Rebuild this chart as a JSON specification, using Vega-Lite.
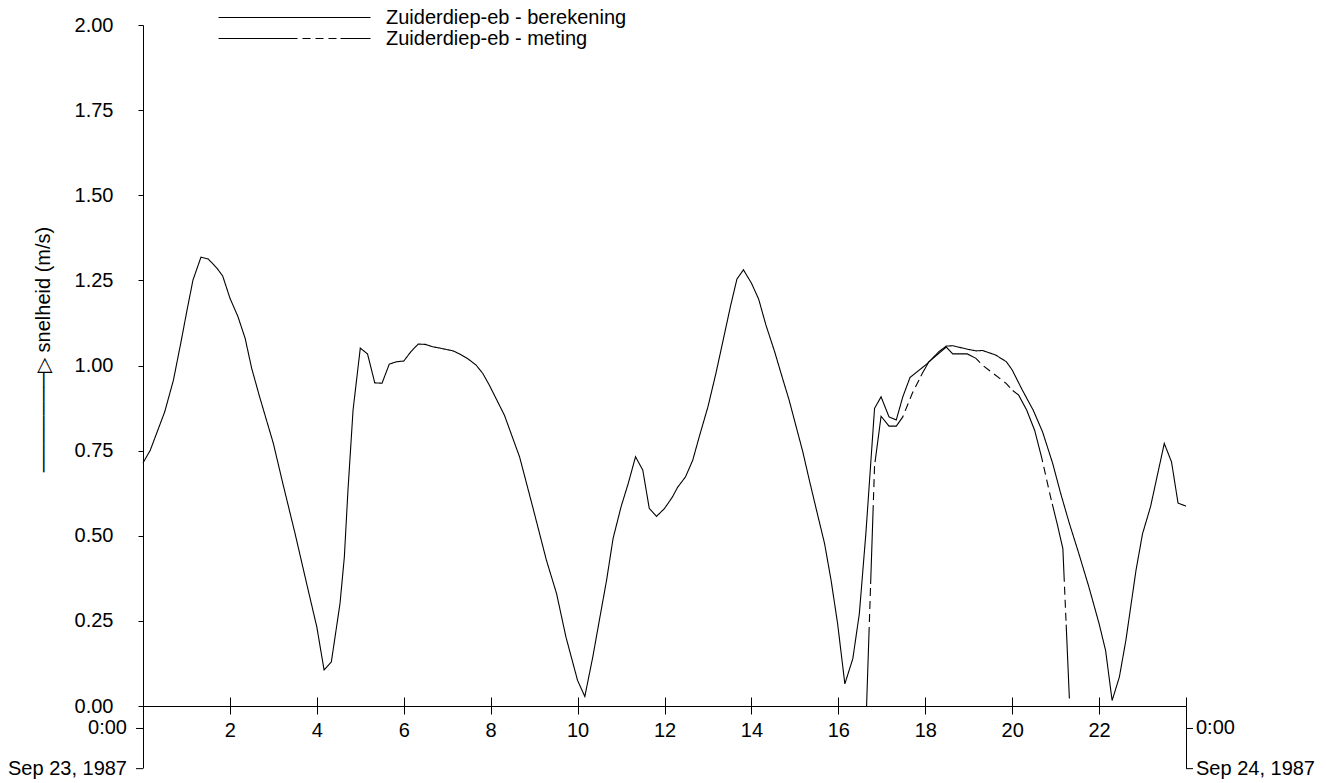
{
  "$schema": "https://vega.github.io/schema/vega-lite/v6.json",
  "width": 1043,
  "height": 681,
  "autosize": {"type": "none"},
  "padding": {"left": 143, "top": 25, "right": 140, "bottom": 77},
  "background": "white",
  "config": {
    "font": "Liberation Sans",
    "view": {"stroke": null},
    "text": {"font": "Liberation Sans", "fontSize": 20, "color": "#000"},
    "axis": {
      "labelFont": "Liberation Sans",
      "labelFontSize": 20,
      "labelColor": "#000",
      "tickColor": "#000",
      "tickWidth": 1,
      "domainColor": "#000",
      "domainWidth": 1,
      "grid": false,
      "titleFont": "Liberation Sans",
      "titleFontSize": 20,
      "titleFontWeight": "normal",
      "titleColor": "#000",
      "labelOverlap": false,
      "labelFlush": false
    }
  },
  "datasets": {
    "berekening": [
      {"series": "Zuiderdiep-eb - berekening", "t": "1987-09-23T00:00", "v": 0.714},
      {"series": "Zuiderdiep-eb - berekening", "t": "1987-09-23T00:10", "v": 0.751},
      {"series": "Zuiderdiep-eb - berekening", "t": "1987-09-23T00:30", "v": 0.864},
      {"series": "Zuiderdiep-eb - berekening", "t": "1987-09-23T00:42", "v": 0.957},
      {"series": "Zuiderdiep-eb - berekening", "t": "1987-09-23T00:53", "v": 1.075},
      {"series": "Zuiderdiep-eb - berekening", "t": "1987-09-23T01:00", "v": 1.154},
      {"series": "Zuiderdiep-eb - berekening", "t": "1987-09-23T01:09", "v": 1.251},
      {"series": "Zuiderdiep-eb - berekening", "t": "1987-09-23T01:20", "v": 1.318},
      {"series": "Zuiderdiep-eb - berekening", "t": "1987-09-23T01:30", "v": 1.313},
      {"series": "Zuiderdiep-eb - berekening", "t": "1987-09-23T01:42", "v": 1.286},
      {"series": "Zuiderdiep-eb - berekening", "t": "1987-09-23T01:50", "v": 1.263},
      {"series": "Zuiderdiep-eb - berekening", "t": "1987-09-23T02:00", "v": 1.198},
      {"series": "Zuiderdiep-eb - berekening", "t": "1987-09-23T02:11", "v": 1.144},
      {"series": "Zuiderdiep-eb - berekening", "t": "1987-09-23T02:21", "v": 1.080},
      {"series": "Zuiderdiep-eb - berekening", "t": "1987-09-23T02:30", "v": 0.992},
      {"series": "Zuiderdiep-eb - berekening", "t": "1987-09-23T02:41", "v": 0.908},
      {"series": "Zuiderdiep-eb - berekening", "t": "1987-09-23T03:00", "v": 0.771},
      {"series": "Zuiderdiep-eb - berekening", "t": "1987-09-23T03:13", "v": 0.654},
      {"series": "Zuiderdiep-eb - berekening", "t": "1987-09-23T03:30", "v": 0.506},
      {"series": "Zuiderdiep-eb - berekening", "t": "1987-09-23T03:46", "v": 0.359},
      {"series": "Zuiderdiep-eb - berekening", "t": "1987-09-23T04:00", "v": 0.232},
      {"series": "Zuiderdiep-eb - berekening", "t": "1987-09-23T04:10", "v": 0.106},
      {"series": "Zuiderdiep-eb - berekening", "t": "1987-09-23T04:20", "v": 0.129},
      {"series": "Zuiderdiep-eb - berekening", "t": "1987-09-23T04:32", "v": 0.301},
      {"series": "Zuiderdiep-eb - berekening", "t": "1987-09-23T04:38", "v": 0.438},
      {"series": "Zuiderdiep-eb - berekening", "t": "1987-09-23T04:43", "v": 0.634},
      {"series": "Zuiderdiep-eb - berekening", "t": "1987-09-23T04:50", "v": 0.869},
      {"series": "Zuiderdiep-eb - berekening", "t": "1987-09-23T05:00", "v": 1.051},
      {"series": "Zuiderdiep-eb - berekening", "t": "1987-09-23T05:10", "v": 1.034},
      {"series": "Zuiderdiep-eb - berekening", "t": "1987-09-23T05:20", "v": 0.949},
      {"series": "Zuiderdiep-eb - berekening", "t": "1987-09-23T05:30", "v": 0.948},
      {"series": "Zuiderdiep-eb - berekening", "t": "1987-09-23T05:40", "v": 1.004},
      {"series": "Zuiderdiep-eb - berekening", "t": "1987-09-23T05:50", "v": 1.011},
      {"series": "Zuiderdiep-eb - berekening", "t": "1987-09-23T06:00", "v": 1.013},
      {"series": "Zuiderdiep-eb - berekening", "t": "1987-09-23T06:10", "v": 1.041},
      {"series": "Zuiderdiep-eb - berekening", "t": "1987-09-23T06:20", "v": 1.063},
      {"series": "Zuiderdiep-eb - berekening", "t": "1987-09-23T06:30", "v": 1.062},
      {"series": "Zuiderdiep-eb - berekening", "t": "1987-09-23T06:40", "v": 1.055},
      {"series": "Zuiderdiep-eb - berekening", "t": "1987-09-23T06:50", "v": 1.051},
      {"series": "Zuiderdiep-eb - berekening", "t": "1987-09-23T07:08", "v": 1.043},
      {"series": "Zuiderdiep-eb - berekening", "t": "1987-09-23T07:17", "v": 1.034},
      {"series": "Zuiderdiep-eb - berekening", "t": "1987-09-23T07:29", "v": 1.019},
      {"series": "Zuiderdiep-eb - berekening", "t": "1987-09-23T07:40", "v": 1.001},
      {"series": "Zuiderdiep-eb - berekening", "t": "1987-09-23T07:49", "v": 0.977},
      {"series": "Zuiderdiep-eb - berekening", "t": "1987-09-23T07:58", "v": 0.943},
      {"series": "Zuiderdiep-eb - berekening", "t": "1987-09-23T08:19", "v": 0.854},
      {"series": "Zuiderdiep-eb - berekening", "t": "1987-09-23T08:40", "v": 0.731},
      {"series": "Zuiderdiep-eb - berekening", "t": "1987-09-23T08:58", "v": 0.585},
      {"series": "Zuiderdiep-eb - berekening", "t": "1987-09-23T09:17", "v": 0.428},
      {"series": "Zuiderdiep-eb - berekening", "t": "1987-09-23T09:31", "v": 0.330},
      {"series": "Zuiderdiep-eb - berekening", "t": "1987-09-23T09:44", "v": 0.202},
      {"series": "Zuiderdiep-eb - berekening", "t": "1987-09-23T10:00", "v": 0.075},
      {"series": "Zuiderdiep-eb - berekening", "t": "1987-09-23T10:10", "v": 0.028},
      {"series": "Zuiderdiep-eb - berekening", "t": "1987-09-23T10:21", "v": 0.144},
      {"series": "Zuiderdiep-eb - berekening", "t": "1987-09-23T10:30", "v": 0.251},
      {"series": "Zuiderdiep-eb - berekening", "t": "1987-09-23T10:40", "v": 0.369},
      {"series": "Zuiderdiep-eb - berekening", "t": "1987-09-23T10:49", "v": 0.492},
      {"series": "Zuiderdiep-eb - berekening", "t": "1987-09-23T11:00", "v": 0.585},
      {"series": "Zuiderdiep-eb - berekening", "t": "1987-09-23T11:10", "v": 0.654},
      {"series": "Zuiderdiep-eb - berekening", "t": "1987-09-23T11:20", "v": 0.732},
      {"series": "Zuiderdiep-eb - berekening", "t": "1987-09-23T11:30", "v": 0.693},
      {"series": "Zuiderdiep-eb - berekening", "t": "1987-09-23T11:39", "v": 0.580},
      {"series": "Zuiderdiep-eb - berekening", "t": "1987-09-23T11:49", "v": 0.557},
      {"series": "Zuiderdiep-eb - berekening", "t": "1987-09-23T12:00", "v": 0.580},
      {"series": "Zuiderdiep-eb - berekening", "t": "1987-09-23T12:11", "v": 0.614},
      {"series": "Zuiderdiep-eb - berekening", "t": "1987-09-23T12:18", "v": 0.642},
      {"series": "Zuiderdiep-eb - berekening", "t": "1987-09-23T12:29", "v": 0.673},
      {"series": "Zuiderdiep-eb - berekening", "t": "1987-09-23T12:39", "v": 0.722},
      {"series": "Zuiderdiep-eb - berekening", "t": "1987-09-23T12:48", "v": 0.791},
      {"series": "Zuiderdiep-eb - berekening", "t": "1987-09-23T13:00", "v": 0.879},
      {"series": "Zuiderdiep-eb - berekening", "t": "1987-09-23T13:11", "v": 0.977},
      {"series": "Zuiderdiep-eb - berekening", "t": "1987-09-23T13:20", "v": 1.065},
      {"series": "Zuiderdiep-eb - berekening", "t": "1987-09-23T13:31", "v": 1.173},
      {"series": "Zuiderdiep-eb - berekening", "t": "1987-09-23T13:40", "v": 1.254},
      {"series": "Zuiderdiep-eb - berekening", "t": "1987-09-23T13:49", "v": 1.281},
      {"series": "Zuiderdiep-eb - berekening", "t": "1987-09-23T14:00", "v": 1.242},
      {"series": "Zuiderdiep-eb - berekening", "t": "1987-09-23T14:10", "v": 1.195},
      {"series": "Zuiderdiep-eb - berekening", "t": "1987-09-23T14:20", "v": 1.119},
      {"series": "Zuiderdiep-eb - berekening", "t": "1987-09-23T14:32", "v": 1.041},
      {"series": "Zuiderdiep-eb - berekening", "t": "1987-09-23T14:43", "v": 0.962},
      {"series": "Zuiderdiep-eb - berekening", "t": "1987-09-23T14:52", "v": 0.899},
      {"series": "Zuiderdiep-eb - berekening", "t": "1987-09-23T15:11", "v": 0.746},
      {"series": "Zuiderdiep-eb - berekening", "t": "1987-09-23T15:20", "v": 0.663},
      {"series": "Zuiderdiep-eb - berekening", "t": "1987-09-23T15:31", "v": 0.565},
      {"series": "Zuiderdiep-eb - berekening", "t": "1987-09-23T15:41", "v": 0.477},
      {"series": "Zuiderdiep-eb - berekening", "t": "1987-09-23T15:50", "v": 0.369},
      {"series": "Zuiderdiep-eb - berekening", "t": "1987-09-23T15:59", "v": 0.242},
      {"series": "Zuiderdiep-eb - berekening", "t": "1987-09-23T16:09", "v": 0.065},
      {"series": "Zuiderdiep-eb - berekening", "t": "1987-09-23T16:20", "v": 0.139},
      {"series": "Zuiderdiep-eb - berekening", "t": "1987-09-23T16:29", "v": 0.271},
      {"series": "Zuiderdiep-eb - berekening", "t": "1987-09-23T16:38", "v": 0.506},
      {"series": "Zuiderdiep-eb - berekening", "t": "1987-09-23T16:50", "v": 0.874},
      {"series": "Zuiderdiep-eb - berekening", "t": "1987-09-23T16:59", "v": 0.908},
      {"series": "Zuiderdiep-eb - berekening", "t": "1987-09-23T17:10", "v": 0.849},
      {"series": "Zuiderdiep-eb - berekening", "t": "1987-09-23T17:20", "v": 0.840},
      {"series": "Zuiderdiep-eb - berekening", "t": "1987-09-23T17:29", "v": 0.908},
      {"series": "Zuiderdiep-eb - berekening", "t": "1987-09-23T17:39", "v": 0.965},
      {"series": "Zuiderdiep-eb - berekening", "t": "1987-09-23T17:52", "v": 0.987},
      {"series": "Zuiderdiep-eb - berekening", "t": "1987-09-23T18:03", "v": 1.006},
      {"series": "Zuiderdiep-eb - berekening", "t": "1987-09-23T18:19", "v": 1.041},
      {"series": "Zuiderdiep-eb - berekening", "t": "1987-09-23T18:29", "v": 1.057},
      {"series": "Zuiderdiep-eb - berekening", "t": "1987-09-23T18:38", "v": 1.058},
      {"series": "Zuiderdiep-eb - berekening", "t": "1987-09-23T18:50", "v": 1.052},
      {"series": "Zuiderdiep-eb - berekening", "t": "1987-09-23T19:00", "v": 1.047},
      {"series": "Zuiderdiep-eb - berekening", "t": "1987-09-23T19:10", "v": 1.043},
      {"series": "Zuiderdiep-eb - berekening", "t": "1987-09-23T19:19", "v": 1.044},
      {"series": "Zuiderdiep-eb - berekening", "t": "1987-09-23T19:37", "v": 1.031},
      {"series": "Zuiderdiep-eb - berekening", "t": "1987-09-23T19:52", "v": 1.011},
      {"series": "Zuiderdiep-eb - berekening", "t": "1987-09-23T20:00", "v": 0.987},
      {"series": "Zuiderdiep-eb - berekening", "t": "1987-09-23T20:14", "v": 0.928},
      {"series": "Zuiderdiep-eb - berekening", "t": "1987-09-23T20:29", "v": 0.869},
      {"series": "Zuiderdiep-eb - berekening", "t": "1987-09-23T20:42", "v": 0.805},
      {"series": "Zuiderdiep-eb - berekening", "t": "1987-09-23T20:56", "v": 0.712},
      {"series": "Zuiderdiep-eb - berekening", "t": "1987-09-23T21:07", "v": 0.624},
      {"series": "Zuiderdiep-eb - berekening", "t": "1987-09-23T21:19", "v": 0.536},
      {"series": "Zuiderdiep-eb - berekening", "t": "1987-09-23T21:32", "v": 0.448},
      {"series": "Zuiderdiep-eb - berekening", "t": "1987-09-23T21:46", "v": 0.349},
      {"series": "Zuiderdiep-eb - berekening", "t": "1987-09-23T22:00", "v": 0.242},
      {"series": "Zuiderdiep-eb - berekening", "t": "1987-09-23T22:09", "v": 0.163},
      {"series": "Zuiderdiep-eb - berekening", "t": "1987-09-23T22:18", "v": 0.016},
      {"series": "Zuiderdiep-eb - berekening", "t": "1987-09-23T22:28", "v": 0.085},
      {"series": "Zuiderdiep-eb - berekening", "t": "1987-09-23T22:37", "v": 0.193},
      {"series": "Zuiderdiep-eb - berekening", "t": "1987-09-23T22:51", "v": 0.399},
      {"series": "Zuiderdiep-eb - berekening", "t": "1987-09-23T23:00", "v": 0.506},
      {"series": "Zuiderdiep-eb - berekening", "t": "1987-09-23T23:11", "v": 0.585},
      {"series": "Zuiderdiep-eb - berekening", "t": "1987-09-23T23:30", "v": 0.771},
      {"series": "Zuiderdiep-eb - berekening", "t": "1987-09-23T23:40", "v": 0.717},
      {"series": "Zuiderdiep-eb - berekening", "t": "1987-09-23T23:49", "v": 0.596},
      {"series": "Zuiderdiep-eb - berekening", "t": "1987-09-24T00:00", "v": 0.587}
    ],
    "meting": [
      {"series": "Zuiderdiep-eb - meting", "t": "1987-09-23T16:39", "v": 0.0},
      {"series": "Zuiderdiep-eb - meting", "t": "1987-09-23T16:50", "v": 0.705},
      {"series": "Zuiderdiep-eb - meting", "t": "1987-09-23T16:59", "v": 0.851},
      {"series": "Zuiderdiep-eb - meting", "t": "1987-09-23T17:10", "v": 0.822},
      {"series": "Zuiderdiep-eb - meting", "t": "1987-09-23T17:20", "v": 0.822},
      {"series": "Zuiderdiep-eb - meting", "t": "1987-09-23T17:29", "v": 0.849},
      {"series": "Zuiderdiep-eb - meting", "t": "1987-09-23T17:42", "v": 0.918},
      {"series": "Zuiderdiep-eb - meting", "t": "1987-09-23T17:56", "v": 0.977},
      {"series": "Zuiderdiep-eb - meting", "t": "1987-09-23T18:05", "v": 1.011},
      {"series": "Zuiderdiep-eb - meting", "t": "1987-09-23T18:29", "v": 1.054},
      {"series": "Zuiderdiep-eb - meting", "t": "1987-09-23T18:38", "v": 1.034},
      {"series": "Zuiderdiep-eb - meting", "t": "1987-09-23T18:58", "v": 1.034},
      {"series": "Zuiderdiep-eb - meting", "t": "1987-09-23T19:10", "v": 1.021},
      {"series": "Zuiderdiep-eb - meting", "t": "1987-09-23T19:19", "v": 1.001},
      {"series": "Zuiderdiep-eb - meting", "t": "1987-09-23T19:52", "v": 0.947},
      {"series": "Zuiderdiep-eb - meting", "t": "1987-09-23T20:00", "v": 0.928},
      {"series": "Zuiderdiep-eb - meting", "t": "1987-09-23T20:09", "v": 0.913},
      {"series": "Zuiderdiep-eb - meting", "t": "1987-09-23T20:20", "v": 0.869},
      {"series": "Zuiderdiep-eb - meting", "t": "1987-09-23T20:31", "v": 0.810},
      {"series": "Zuiderdiep-eb - meting", "t": "1987-09-23T20:41", "v": 0.727},
      {"series": "Zuiderdiep-eb - meting", "t": "1987-09-23T20:53", "v": 0.614},
      {"series": "Zuiderdiep-eb - meting", "t": "1987-09-23T21:02", "v": 0.536},
      {"series": "Zuiderdiep-eb - meting", "t": "1987-09-23T21:10", "v": 0.462},
      {"series": "Zuiderdiep-eb - meting", "t": "1987-09-23T21:19", "v": 0.022}
    ],
    "bracket": [
      {"t": "1987-09-23T00:00", "side": "left", "time": "0:00", "date": "Sep 23, 1987"},
      {"t": "1987-09-24T00:00", "side": "right", "time": "0:00", "date": "Sep 24, 1987"}
    ]
  },
  "layer": [
    {
      "data": {"name": "berekening"},
      "mark": {"type": "line", "color": "#000", "strokeWidth": 1.1},
      "encoding": {
        "x": {
          "field": "t", "type": "temporal",
          "scale": {"domain": [{"year": 1987, "month": 9, "date": 23, "hours": 0}, {"year": 1987, "month": 9, "date": 24, "hours": 0}], "nice": false},
          "axis": {
            "orient": "bottom",
            "title": null,
            "values": [
              {"year": 1987, "month": 9, "date": 23, "hours": 0},
              {"year": 1987, "month": 9, "date": 23, "hours": 2},
              {"year": 1987, "month": 9, "date": 23, "hours": 4},
              {"year": 1987, "month": 9, "date": 23, "hours": 6},
              {"year": 1987, "month": 9, "date": 23, "hours": 8},
              {"year": 1987, "month": 9, "date": 23, "hours": 10},
              {"year": 1987, "month": 9, "date": 23, "hours": 12},
              {"year": 1987, "month": 9, "date": 23, "hours": 14},
              {"year": 1987, "month": 9, "date": 23, "hours": 16},
              {"year": 1987, "month": 9, "date": 23, "hours": 18},
              {"year": 1987, "month": 9, "date": 23, "hours": 20},
              {"year": 1987, "month": 9, "date": 23, "hours": 22},
              {"year": 1987, "month": 9, "date": 24, "hours": 0}
            ],
            "labelExpr": "hours(datum.value) == 0 ? '' : '' + hours(datum.value)",
            "tickSize": {"condition": {"test": "hours(datum.value) == 0", "value": 62}, "value": 8},
            "labelPadding": 6,
            "domain": true
          }
        },
        "y": {
          "field": "v", "type": "quantitative",
          "scale": {"domain": [0, 2], "nice": false, "zero": true},
          "axis": {
            "orient": "left",
            "values": [0, 0.25, 0.5, 0.75, 1, 1.25, 1.5, 1.75, 2],
            "format": ".2f",
            "tickSize": 5,
            "labelPadding": 25,
            "title": "───────▷  snelheid (m/s)",
            "titleAngle": -90,
            "titleX": -100,
            "titleY": 324,
            "titleBaseline": "middle",
            "titleAlign": "center",
            "domain": true
          }
        },
        "strokeDash": {
          "field": "series", "type": "nominal",
          "scale": {"domain": ["Zuiderdiep-eb - berekening", "Zuiderdiep-eb - meting"], "range": [[1, 0], [79, 5, 8, 5, 8, 5, 8, 4]]},
          "legend": {
            "title": null, "orient": "none", "legendX": 141, "legendY": -18,
            "symbolType": "M-8,0H8", "symbolSize": 361, "symbolStrokeWidth": 1.1, "symbolStrokeColor": "#000",
            "labelFont": "Liberation Sans", "labelFontSize": 20, "labelColor": "#000", "labelOffset": 81,
            "rowPadding": 0, "padding": 0, "labelLimit": 400
          }
        }
      }
    },
    {
      "data": {"name": "meting"},
      "mark": {"type": "line", "color": "#000", "strokeWidth": 1.1},
      "encoding": {
        "x": {
          "field": "t", "type": "temporal",
          "scale": {"domain": [{"year": 1987, "month": 9, "date": 23, "hours": 0}, {"year": 1987, "month": 9, "date": 24, "hours": 0}], "nice": false},
          "axis": {
            "orient": "top",
            "offset": -681,
            "title": null,
            "values": [
              {"year": 1987, "month": 9, "date": 23, "hours": 2},
              {"year": 1987, "month": 9, "date": 23, "hours": 4},
              {"year": 1987, "month": 9, "date": 23, "hours": 6},
              {"year": 1987, "month": 9, "date": 23, "hours": 8},
              {"year": 1987, "month": 9, "date": 23, "hours": 10},
              {"year": 1987, "month": 9, "date": 23, "hours": 12},
              {"year": 1987, "month": 9, "date": 23, "hours": 14},
              {"year": 1987, "month": 9, "date": 23, "hours": 16},
              {"year": 1987, "month": 9, "date": 23, "hours": 18},
              {"year": 1987, "month": 9, "date": 23, "hours": 20},
              {"year": 1987, "month": 9, "date": 23, "hours": 22},
              {"year": 1987, "month": 9, "date": 24, "hours": 0}
            ],
            "tickSize": 9,
            "labels": false,
            "domain": false
          }
        },
        "y": {
          "field": "v", "type": "quantitative",
          "scale": {"domain": [0, 2], "nice": false, "zero": true},
          "axis": null
        },
        "strokeDash": {
          "field": "series", "type": "nominal",
          "scale": {"domain": ["Zuiderdiep-eb - berekening", "Zuiderdiep-eb - meting"], "range": [[1, 0], [79, 5, 8, 5, 8, 5, 8, 4]]},
          "legend": {
            "title": null, "orient": "none", "legendX": 141, "legendY": -18,
            "symbolType": "M-8,0H8", "symbolSize": 361, "symbolStrokeWidth": 1.1, "symbolStrokeColor": "#000",
            "labelFont": "Liberation Sans", "labelFontSize": 20, "labelColor": "#000", "labelOffset": 81,
            "rowPadding": 0, "padding": 0, "labelLimit": 400
          }
        }
      }
    },
    {
      "data": {"name": "bracket"},
      "transform": [{"filter": "datum.side == 'left'"}],
      "encoding": {
        "x": {"field": "t", "type": "temporal", "axis": null}
      },
      "layer": [
        {
          "mark": {"type": "text", "align": "right", "baseline": "middle", "dx": -16},
          "encoding": {
            "y": {"datum": -0.066, "type": "quantitative", "axis": null},
            "text": {"field": "time"}
          }
        },
        {
          "mark": {"type": "text", "align": "right", "baseline": "middle", "dx": -16},
          "encoding": {
            "y": {"datum": -0.184, "type": "quantitative", "axis": null},
            "text": {"field": "date"}
          }
        },
        {
          "mark": {"type": "rule", "color": "#000", "strokeWidth": 1, "x2Offset": -7},
          "encoding": {
            "x2": {"field": "t"},
            "y": {"datum": -0.066, "type": "quantitative", "axis": null}
          }
        },
        {
          "mark": {"type": "rule", "color": "#000", "strokeWidth": 1, "x2Offset": -7},
          "encoding": {
            "x2": {"field": "t"},
            "y": {"datum": -0.184, "type": "quantitative", "axis": null}
          }
        }
      ]
    },
    {
      "data": {"name": "bracket"},
      "transform": [{"filter": "datum.side == 'right'"}],
      "encoding": {
        "x": {"field": "t", "type": "temporal", "axis": null}
      },
      "layer": [
        {
          "mark": {"type": "text", "align": "left", "baseline": "middle", "dx": 10},
          "encoding": {
            "y": {"datum": -0.066, "type": "quantitative", "axis": null},
            "text": {"field": "time"}
          }
        },
        {
          "mark": {"type": "text", "align": "left", "baseline": "middle", "dx": 10},
          "encoding": {
            "y": {"datum": -0.184, "type": "quantitative", "axis": null},
            "text": {"field": "date"}
          }
        },
        {
          "mark": {"type": "rule", "color": "#000", "strokeWidth": 1, "x2Offset": 7},
          "encoding": {
            "x2": {"field": "t"},
            "y": {"datum": -0.066, "type": "quantitative", "axis": null}
          }
        },
        {
          "mark": {"type": "rule", "color": "#000", "strokeWidth": 1, "x2Offset": 7},
          "encoding": {
            "x2": {"field": "t"},
            "y": {"datum": -0.184, "type": "quantitative", "axis": null}
          }
        }
      ]
    }
  ],
  "resolve": {"axis": {"x": "independent", "y": "independent"}}
}
